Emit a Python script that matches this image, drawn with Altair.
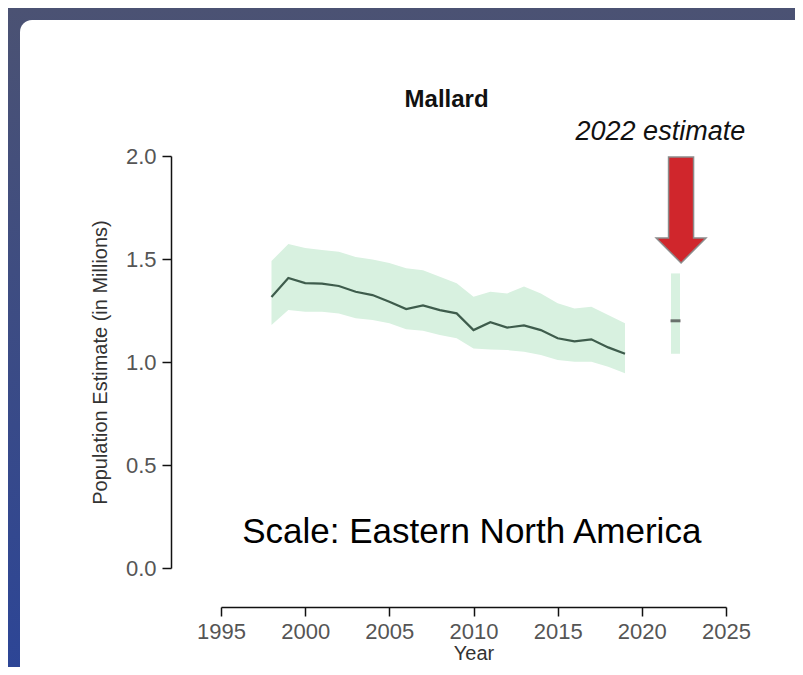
import altair as alt
import pandas as pd

# ---- data ----
years = list(range(1998, 2020))
estimate = [1.316, 1.408, 1.383, 1.380, 1.369, 1.341, 1.325, 1.293, 1.257, 1.275, 1.252,
            1.236, 1.155, 1.193, 1.167, 1.178, 1.155, 1.115, 1.100, 1.110, 1.071, 1.040]
upper = [1.490, 1.573, 1.553, 1.544, 1.535, 1.510, 1.498, 1.480, 1.455, 1.445, 1.414,
         1.382, 1.317, 1.341, 1.333, 1.366, 1.333, 1.285, 1.260, 1.268, 1.228, 1.188]
lower = [1.180, 1.252, 1.244, 1.244, 1.236, 1.212, 1.204, 1.188, 1.159, 1.152, 1.131,
         1.115, 1.066, 1.061, 1.058, 1.050, 1.034, 1.010, 1.001, 1.001, 0.977, 0.945]

est_year = [2022]
est_value = [1.20]
est_upper = [1.43]
est_lower = [1.04]

x_ticks = [1995, 2000, 2005, 2010, 2015, 2020, 2025]
y_ticks = [0.0, 0.5, 1.0, 1.5, 2.0]

df = pd.DataFrame({"year": years, "est": estimate, "hi": upper, "lo": lower})
df22 = pd.DataFrame({"year": est_year, "est": est_value, "hi": est_upper, "lo": est_lower})

FONT = "Liberation Sans"
W, H = 505, 412
PL, PT = 213, 148

xs = alt.Scale(domain=[1995, 2025], nice=False, zero=False)
ys = alt.Scale(domain=[0, 2], nice=False, zero=False)

x_axis = alt.Axis(values=x_ticks, format="d", offset=39, tickSize=9, labelPadding=5,
                  labelFlush=False, labelOverlap=False,
                  title="Year", titlePadding=1, grid=False, zindex=2)
y_axis = alt.Axis(values=y_ticks, format=".1f", offset=50, tickSize=9, labelPadding=6,
                  labelFlush=False, labelOverlap=False,
                  title="Population Estimate (in Millions)", titlePadding=15, grid=False, zindex=2)

one = alt.Data(values=[{}])

bg = alt.Chart(one).mark_rect(
    color=alt.LinearGradient(gradient="linear",
                             stops=[alt.GradientStop(color="#4b5273", offset=0),
                                    alt.GradientStop(color="#2c4597", offset=1)],
                             x1=0, x2=0, y1=0, y2=1)
).encode(x=alt.value(-PL), x2=alt.value(W + 100), y=alt.value(-PT), y2=alt.value(H + 120))

panel = alt.Chart(one).mark_rect(color="white", cornerRadius=12).encode(
    x=alt.value(-201), x2=alt.value(W + 90), y=alt.value(-136), y2=alt.value(H + 140))

band = alt.Chart(df).mark_area(color="#d8f1e0", opacity=1).encode(
    x=alt.X("year:Q", scale=xs, axis=x_axis),
    y=alt.Y("lo:Q", scale=ys, axis=y_axis),
    y2="hi:Q")

line = alt.Chart(df).mark_line(color="#3e5c4c", strokeWidth=2.2).encode(
    x=alt.X("year:Q", scale=xs), y=alt.Y("est:Q", scale=ys))

band22 = alt.Chart(df22).mark_rule(color="#d8f1e0", strokeWidth=9).encode(
    x=alt.X("year:Q", scale=xs), y=alt.Y("lo:Q", scale=ys), y2="hi:Q")

tick22 = alt.Chart(df22).mark_tick(color="#3a3a3a", orient="horizontal", size=10, thickness=3).encode(
    x=alt.X("year:Q", scale=xs), y=alt.Y("est:Q", scale=ys))

arrow = alt.Chart(one).mark_point(
    shape="M-0.236,-1 L0.236,-1 L0.236,0.53 L0.47,0.53 L0,1 L-0.47,0.53 L-0.236,0.53 Z",
    size=11236, filled=True, fill="#d0262c", stroke="#8c8c8c", strokeWidth=1.5, opacity=1
).encode(x=alt.datum(2022.33, scale=xs), y=alt.datum(1.738, scale=ys))

title = alt.Chart(one).mark_text(text="Mallard", font=FONT, fontSize=24, fontWeight="bold",
                                 color="#111", baseline="alphabetic", align="center").encode(
    x=alt.datum(2008.4), y=alt.datum(2.238))

est_label = alt.Chart(one).mark_text(text="2022 estimate", font=FONT, fontSize=27, fontStyle="italic",
                                     color="#111", baseline="alphabetic", align="center").encode(
    x=alt.datum(2021.1), y=alt.datum(2.078))

scale_label = alt.Chart(one).mark_text(text="Scale:  Eastern North America", font=FONT, fontSize=35,
                                       color="#000", baseline="alphabetic", align="center").encode(
    x=alt.datum(2009.9), y=alt.datum(0.12))

chart = alt.layer(bg, panel, band, line, band22, tick22, arrow, title, est_label, scale_label).properties(
    width=W, height=H,
    autosize=alt.AutoSizeParams(type="none"),
    padding={"left": PL, "top": PT, "right": 787 - PL - W, "bottom": 659 - PT - H},
).configure_view(stroke=None).configure_axis(
    domainColor="#111", domainWidth=1.5, tickColor="#111", tickWidth=1.5,
    labelFont=FONT, labelFontSize=22, labelColor="#555",
    titleFont=FONT, titleFontSize=20, titleFontWeight="normal", titleColor="#333",
)

chart.save("out.html", embed_options={"renderer": "svg", "actions": False})
